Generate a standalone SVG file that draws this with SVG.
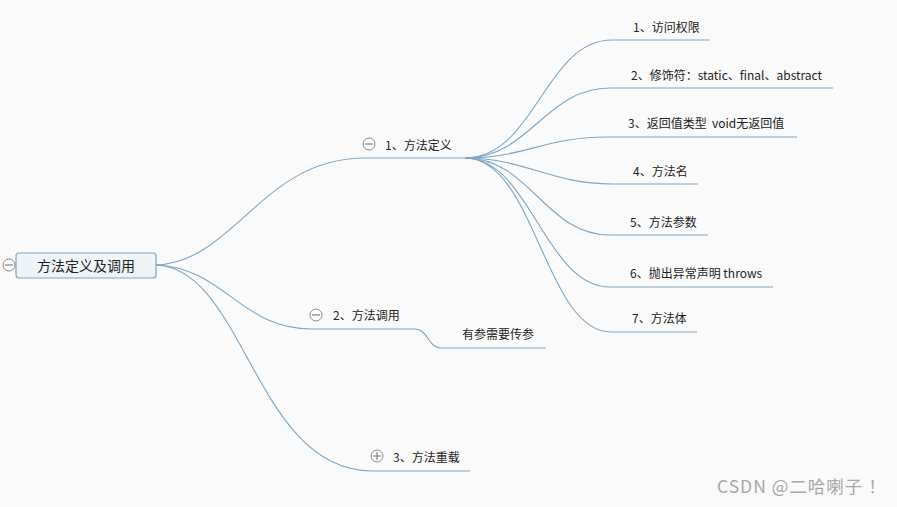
<svg xmlns="http://www.w3.org/2000/svg" width="897" height="507" viewBox="0 0 897 507">
<style>
.t{font-family:"Noto Sans CJK SC","Liberation Sans",sans-serif;font-size:12px;fill:#222}
.c{fill:none;stroke:#7ea6c6;stroke-width:1.1}
.u{fill:none;stroke:#7ea6c6;stroke-width:1.2}
.k{fill:#fdfdfd;stroke:#8a8a8a;stroke-width:1}
.m{stroke:#777;stroke-width:1.1}
</style>
<rect width="897" height="507" fill="#fafafa"/>
<g id="connectors">
<path class="c" d="M156,265 C235,262 262,158 365,158"/>
<path class="c" d="M156,265 C225,268 240,329 312,329"/>
<path class="c" d="M156,265 C245,268 255,471 372,471"/>
<path class="c" d="M465,158 C535,158 545,40 612,40"/>
<path class="c" d="M465,158 C530,158 545,88 610,88"/>
<path class="c" d="M465,158 C525,158 545,137 607,137"/>
<path class="c" d="M465,158 C525,158 550,184 612,184"/>
<path class="c" d="M465,158 C530,158 545,235 610,235"/>
<path class="c" d="M465,158 C530,158 545,287 610,287"/>
<path class="c" d="M465,158 C535,158 545,332 611,332"/>
<path class="c" d="M415,329 C428,329 428,348 441,348"/>
</g>
<g id="root">
<rect x="16" y="253" width="140" height="25" rx="3" fill="#eef4f8" stroke="#7ea6c6" stroke-width="1.2"/>
<text x="86" y="271" text-anchor="middle" class="t" style="font-size:14px">方法定义及调用</text>
<circle class="k" cx="9" cy="265" r="6"/>
<line class="m" x1="5" y1="265" x2="13" y2="265"/>
</g>
<g id="b1">
<line class="u" x1="365" y1="158" x2="465" y2="158"/>
<circle class="k" cx="369" cy="144" r="6"/>
<line class="m" x1="365" y1="144" x2="373" y2="144"/>
<text x="385" y="150" class="t">1、方法定义</text>
</g>
<g id="b2">
<line class="u" x1="312" y1="329" x2="415" y2="329"/>
<circle class="k" cx="316" cy="315" r="6"/>
<line class="m" x1="312" y1="315" x2="320" y2="315"/>
<text x="333" y="320" class="t">2、方法调用</text>
</g>
<g id="b3">
<line class="u" x1="372" y1="471" x2="470" y2="471"/>
<circle class="k" cx="377" cy="456" r="6"/>
<line class="m" x1="373" y1="456" x2="381" y2="456"/>
<line class="m" x1="377" y1="452" x2="377" y2="460"/>
<text x="393" y="462" class="t">3、方法重载</text>
</g>
<g id="b2c1">
<line class="u" x1="441" y1="348" x2="546" y2="348"/>
<text x="462" y="339" class="t">有参需要传参</text>
</g>
<g id="c1"><line class="u" x1="612" y1="40" x2="710" y2="40"/><text x="633" y="32" class="t">1、访问权限</text></g>
<g id="c2"><line class="u" x1="610" y1="88" x2="833" y2="88"/><text x="631" y="80" class="t">2、修饰符：static、final、abstract</text></g>
<g id="c3"><line class="u" x1="607" y1="137" x2="797" y2="137"/><text x="628" y="128" class="t" xml:space="preserve">3、返回值类型  void无返回值</text></g>
<g id="c4"><line class="u" x1="612" y1="184" x2="698" y2="184"/><text x="633" y="176" class="t">4、方法名</text></g>
<g id="c5"><line class="u" x1="610" y1="235" x2="708" y2="235"/><text x="630" y="227" class="t">5、方法参数</text></g>
<g id="c6"><line class="u" x1="610" y1="287" x2="773" y2="287"/><text x="630" y="278" class="t">6、抛出异常声明 throws</text></g>
<g id="c7"><line class="u" x1="611" y1="332" x2="697" y2="332"/><text x="632" y="323" class="t">7、方法体</text></g>
<text x="717" y="493" style="font-family:'Noto Sans CJK SC','Liberation Sans',sans-serif;font-size:17.5px;letter-spacing:1px;fill:#a8a8a8">CSDN @二哈喇子 ！</text>
</svg>
